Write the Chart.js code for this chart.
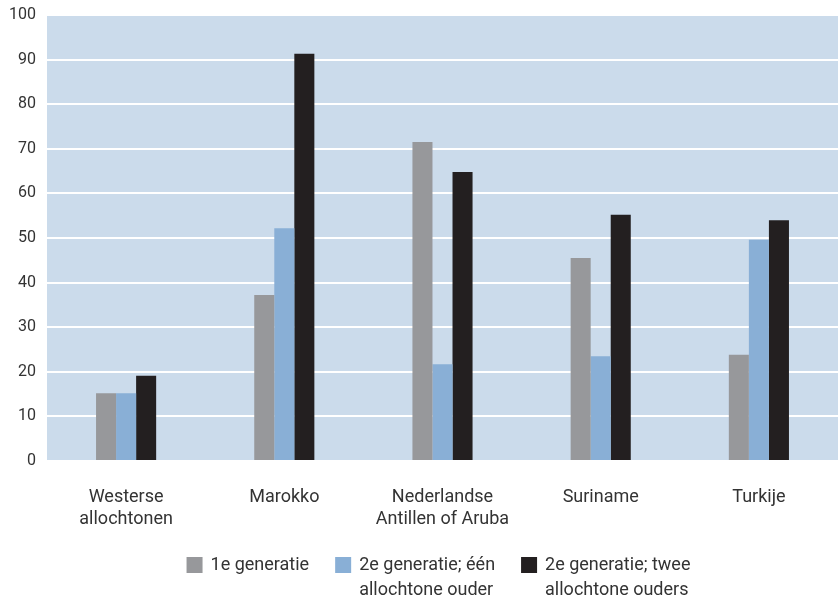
<!DOCTYPE html>
<html>
<head>
<meta charset="utf-8">
<script src="https://cdn.jsdelivr.net/npm/chart.js@4"></script>
<style>
  html, body { margin: 0; padding: 0; background: #fff; }
  #wrap { width: 838px; height: 600px; }
</style>
</head>
<body>
<div id="wrap"><canvas id="graph" width="838" height="600"></canvas></div>
<script>
const categories = [
  ["Westerse", "allochtonen"],
  "Marokko",
  ["Nederlandse", "Antillen of Aruba"],
  "Suriname",
  "Turkije"
];
const seriesNames = [
  ["1e generatie"],
  ["2e generatie; één", "allochtone ouder"],
  ["2e generatie; twee", "allochtone ouders"]
];
const firstGen = [15.2, 37.2, 71.5, 45.5, 23.8];
const secondGenOne = [15.2, 52.2, 21.7, 23.5, 49.6];
const secondGenTwo = [19.1, 91.3, 64.8, 55.2, 54.0];
const yTicks = [0, 10, 20, 30, 40, 50, 60, 70, 80, 90, 100];

const colors = ["#97989b", "#89afd6", "#231f20"];
const textColor = "#333333";
const tickFont = { family: "Roboto", size: 16 };
const labelFont = { family: "Roboto", size: 18, lineHeight: 1.25 };

// light blue plot background
const plotBg = {
  id: "plotBg",
  beforeDraw(chart) {
    const { ctx, chartArea: a } = chart;
    ctx.save();
    ctx.fillStyle = "#cbdbeb";
    ctx.fillRect(a.left, a.top, a.right - a.left, a.bottom - a.top);
    ctx.restore();
  }
};

// legend with wrapped labels, drawn under the axis
const legendBelow = {
  id: "legendBelow",
  afterDraw(chart) {
    const { ctx, chartArea: a } = chart;
    const box = 16, gapText = 8, gapItem = 26, lineH = 25, y0 = 565;
    ctx.save();
    ctx.font = labelFont.size + "px " + labelFont.family;
    const widths = chart.data.datasets.map(ds =>
      box + gapText + Math.max(...ds.label.map(l => ctx.measureText(l).width)));
    const total = widths.reduce((s, w) => s + w, 0) + gapItem * (widths.length - 1);
    let x = (a.left + a.right) / 2 - 4 - total / 2;
    ctx.textBaseline = "middle";
    ctx.textAlign = "left";
    chart.data.datasets.forEach((ds, i) => {
      ctx.fillStyle = ds.backgroundColor;
      ctx.fillRect(x, y0 - box / 2, box, box);
      ctx.fillStyle = textColor;
      ds.label.forEach((l, j) => ctx.fillText(l, x + box + gapText, y0 + j * lineH));
      x += widths[i] + gapItem;
    });
    ctx.restore();
  }
};

const ctx = document.getElementById("graph").getContext("2d");
new Chart(ctx, {
  type: "bar",
  data: {
    labels: categories,
    datasets: [
      { label: seriesNames[0], data: firstGen, backgroundColor: colors[0] },
      { label: seriesNames[1], data: secondGenOne, backgroundColor: colors[1] },
      { label: seriesNames[2], data: secondGenTwo, backgroundColor: colors[2] }
    ]
  },
  options: {
    responsive: false,
    animation: false,
    layout: { padding: { top: 15, right: 0, left: 0, bottom: 64 } },
    datasets: { bar: { barPercentage: 1, categoryPercentage: 0.38 } },
    plugins: { legend: { display: false }, tooltip: { enabled: false } },
    scales: {
      x: {
        grid: { display: false, drawTicks: false },
        border: { display: false },
        ticks: { color: textColor, font: labelFont, padding: 25, maxRotation: 0 },
        afterFit(s) { s.height = 75; s.paddingLeft = 0; s.paddingRight = 0; }
      },
      y: {
        min: 0,
        max: 100,
        afterBuildTicks(s) { s.ticks = yTicks.map(v => ({ value: v })); },
        grid: { color: "#ffffff", lineWidth: 2, drawTicks: false },
        border: { display: false },
        ticks: { color: textColor, font: tickFont, padding: 11 },
        afterFit(s) { s.width = 47; s.paddingTop = 0; s.paddingBottom = 0; }
      }
    }
  },
  plugins: [plotBg, legendBelow]
});
</script>
</body>
</html>
